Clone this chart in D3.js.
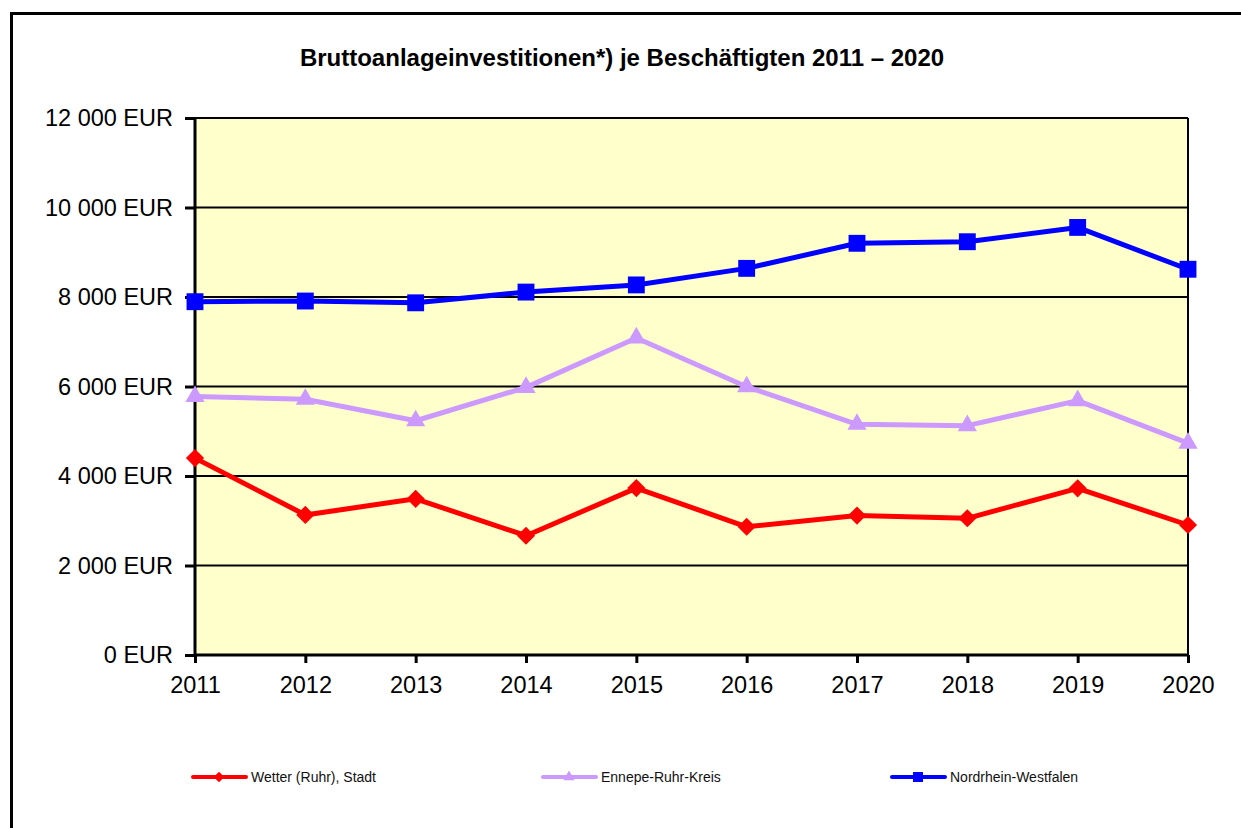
<!DOCTYPE html>
<html>
<head>
<meta charset="utf-8">
<script src="https://cdn.jsdelivr.net/npm/d3@7"></script>
<style>
  body { margin: 0; background: #fff; }
  svg { display: block; font-family: "Liberation Sans", Arial, sans-serif; }
</style>
</head>
<body>
<div id="chart"></div>
<script>
var years = [2011, 2012, 2013, 2014, 2015, 2016, 2017, 2018, 2019, 2020];
var wetter = [4400, 3130, 3490, 2665, 3730, 2865, 3115, 3055, 3725, 2905];
var ennepe = [5775, 5715, 5235, 5980, 7085, 5995, 5155, 5125, 5685, 4735];
var nrw = [7895, 7910, 7870, 8110, 8270, 8640, 9200, 9235, 9555, 8620];
var yTicks = [0, 2000, 4000, 6000, 8000, 10000, 12000];

var series = [
  { name: "Wetter (Ruhr), Stadt", values: wetter, color: "#FF0000", symbol: d3.symbolSquare, size: 165, rot: 45 },
  { name: "Ennepe-Ruhr-Kreis", values: ennepe, color: "#CC99FF", symbol: d3.symbolTriangle, size: 160, rot: 0 },
  { name: "Nordrhein-Westfalen", values: nrw, color: "#0000FF", symbol: d3.symbolSquare, size: 285, rot: 0 }
];

var W = 1241, H = 828;
var margin = { top: 118, left: 195, right: 53, bottom: 173 };
var width = W - margin.left - margin.right,
    height = H - margin.top - margin.bottom;

var svg = d3.select("#chart").append("svg")
    .attr("width", W).attr("height", H);

// outer frame
svg.append("rect")
    .attr("x", 11.5).attr("y", 13.5)
    .attr("width", W + 20).attr("height", H + 20)
    .attr("fill", "#fff").attr("stroke", "#000").attr("stroke-width", 3);

svg.append("text")
    .attr("x", 622).attr("y", 66)
    .attr("text-anchor", "middle")
    .attr("font-size", 24).attr("font-weight", "bold")
    .text("Bruttoanlageinvestitionen*) je Beschäftigten 2011 – 2020");

var g = svg.append("g").attr("transform", "translate(" + margin.left + "," + margin.top + ")");

var x = d3.scalePoint().domain(years).range([0, width]);
var y = d3.scaleLinear().domain([0, 12000]).range([height, 0]);

g.append("rect")
    .attr("width", width).attr("height", height)
    .attr("fill", "#FFFFCC");

// gridlines
g.selectAll(".grid").data(yTicks.slice(1)).enter().append("line")
    .attr("x1", 0).attr("x2", width)
    .attr("y1", function(d){ return y(d); }).attr("y2", function(d){ return y(d); })
    .attr("stroke", "#000").attr("stroke-width", 2);

g.append("line")
    .attr("x1", width).attr("x2", width).attr("y1", 0).attr("y2", height)
    .attr("stroke", "#000").attr("stroke-width", 2);

var fmt = function(d){ return d3.format(",")(d).replace(/,/g, " ") + " EUR"; };

var yAxis = g.append("g")
    .call(d3.axisLeft(y).tickValues(yTicks).tickFormat(fmt).tickSize(10).tickPadding(12));
var xAxis = g.append("g").attr("transform", "translate(0," + height + ")")
    .call(d3.axisBottom(x).tickSize(8).tickPadding(13));

[yAxis, xAxis].forEach(function(a){
  a.select(".domain").attr("stroke", "#000").attr("stroke-width", 3);
  a.selectAll(".tick line").attr("stroke", "#000").attr("stroke-width", 3);
  a.selectAll("text").attr("font-size", 23.5).attr("fill", "#000")
      .attr("font-family", "'Liberation Sans', Arial, sans-serif");
});
yAxis.select(".domain").attr("d", "M0,0V" + height);
xAxis.select(".domain").attr("d", "M0,0H" + width);

var line = d3.line()
    .x(function(d, i){ return x(years[i]); })
    .y(function(d){ return y(d); });

series.forEach(function(s){
  g.append("path").datum(s.values)
      .attr("d", line).attr("fill", "none")
      .attr("stroke", s.color).attr("stroke-width", 5)
      .attr("stroke-linejoin", "round");
  g.selectAll(null).data(s.values).enter().append("path")
      .attr("d", d3.symbol().type(s.symbol).size(s.size))
      .attr("transform", function(d, i){
        return "translate(" + x(years[i]) + "," + y(d) + ") rotate(" + s.rot + ")";
      })
      .attr("fill", s.color);
});

// legend
var legendX = [193, 543, 892];
var leg = svg.selectAll(".leg").data(series).enter().append("g")
    .attr("transform", function(d, i){ return "translate(" + legendX[i] + ",777)"; });
leg.append("line").attr("x1", 0).attr("x2", 53)
    .attr("stroke", function(d){ return d.color; }).attr("stroke-width", 4)
    .attr("stroke-linecap", "round");
leg.append("path")
    .attr("d", function(d){ return d3.symbol().type(d.symbol).size(d.size * 0.35)(); })
    .attr("transform", function(d){ return "translate(26,0) rotate(" + d.rot + ")"; })
    .attr("fill", function(d){ return d.color; });
leg.append("text").attr("x", 58).attr("y", 5)
    .attr("font-size", 14).attr("fill", "#111")
    .text(function(d){ return d.name; });
</script>
</body>
</html>
